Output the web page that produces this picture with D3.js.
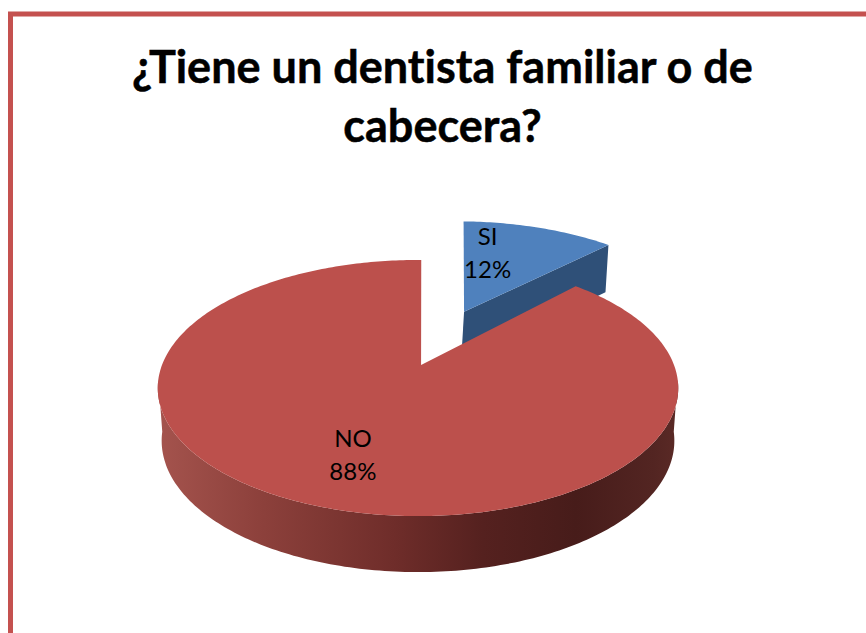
<!DOCTYPE html>
<html lang="es">
<head>
<meta charset="utf-8">
<script src="https://cdnjs.cloudflare.com/ajax/libs/d3/7.8.5/d3.min.js"></script>
<style>
  html, body { margin: 0; padding: 0; background: #fff; overflow: hidden; }
  svg { display: block; }
  text { font-family: Lato, "Open Sans", sans-serif; fill: #000; font-variant-ligatures: none; }
</style>
</head>
<body>
<svg id="chart" width="866" height="633"></svg>
<script>
// Chart content
const categories = ["SI", "NO"];
const shares = [12, 88];
const titleLines = ["¿Tiene un dentista familiar o de", "cabecera?"];

// Colours
const topColors = { SI: "#4f81bd", NO: "#bc504c" };
const sideBlue = "#2f5078";
const frameColor = "#c4514f";

// Tilted-disc camera: plan coordinates on a unit circle, projected with perspective
const pivot = { x: 418, y: 365 };
const spreadX = 256, spreadY = 123.9, depth = -0.18;
const project = (u, v) => {
  const w = 1 + depth * v;
  return [pivot.x + spreadX * u / w, pivot.y + spreadY * v / w];
};
const wallHeight = v => 52 + 4 * v;

// Per-slice placement on the disc plane
const explode = {
  SI: { u: 0.195, v: -0.465, turn: 0.03, tipU: 0.195 },
  NO: { u: 0, v: 0, turn: 0.015, tipU: 0.012 }
};
const labelAnchor = { SI: { u: 0.325, v: -1.08 }, NO: { u: -0.225, v: 0.64 } };

const svg = d3.select("#chart");
const line = d3.line();

const pie = d3.pie().sort(null).value(d => d.share);
const slices = pie(categories.map((name, i) => ({ name, share: shares[i] })));

// Sample a slice's rim between two pie angles, measured clockwise from the back of the disc
function rim(start, end, offset) {
  const n = Math.max(2, Math.ceil((end - start) * 60));
  return d3.range(n + 1).map(i => {
    const a = start + (end - start) * i / n + offset.turn;
    return { u: offset.u + Math.sin(a), v: offset.v - Math.cos(a) };
  });
}

const defs = svg.append("defs");
const wallGradient = defs.append("linearGradient")
  .attr("id", "wallShade")
  .attr("gradientUnits", "userSpaceOnUse")
  .attr("x1", 160).attr("x2", 680).attr("y1", 0).attr("y2", 0);
[[0, "#a4534d"], [0.2, "#8c403b"], [0.45, "#6f2d2a"], [0.62, "#55211f"], [0.8, "#471c1a"], [0.95, "#532522"], [1, "#5b2a26"]]
  .forEach(([o, c]) => wallGradient.append("stop").attr("offset", o).attr("stop-color", c));

// Outer frame, running off the right and bottom of the page
svg.append("rect")
  .attr("x", 10.5).attr("y", 14)
  .attr("width", 900).attr("height", 700)
  .attr("fill", "none")
  .attr("stroke", frameColor)
  .attr("stroke-width", 5);

// Title
svg.append("g").selectAll("text").data(titleLines).join("text")
  .attr("x", 442.5)
  .attr("y", (d, i) => 83 + i * 59)
  .attr("text-anchor", "middle")
  .attr("font-size", 45)
  .attr("font-weight", 700)
  .attr("stroke", "#000")
  .attr("stroke-width", 0.5)
  .text(d => d);

const siSlice = slices.find(s => s.data.name === "SI");
const noSlice = slices.find(s => s.data.name === "NO");

// Exploded slice: its cut face shows below the top surface
{
  const off = explode.SI;
  const arc = rim(siSlice.startAngle, siSlice.endAngle, off);
  const tip = { u: off.tipU, v: off.v };
  const end = arc[arc.length - 1];
  const face = [tip, end].map(p => project(p.u, p.v));
  const lower = [end, tip].map(p => {
    const [x, y] = project(p.u, p.v);
    return [x - 3, y + wallHeight(p.v)];
  });
  svg.append("path")
    .attr("d", line(face.concat(lower)) + "Z")
    .attr("fill", sideBlue);
  svg.append("path")
    .attr("d", line([tip].concat(arc).map(p => project(p.u, p.v))) + "Z")
    .attr("fill", topColors.SI);
}

// Curved wall of the large slice, only the part facing the viewer
{
  const off = explode.NO;
  const arc = rim(noSlice.startAngle, noSlice.endAngle, off);
  const front = arc.filter(p => p.v > 0.1);
  const upper = front.map(p => project(p.u, p.v));
  const lower = front.slice().reverse().map(p => {
    const [x, y] = project(p.u * 0.985, p.v);
    return [x, y + wallHeight(p.v)];
  });
  svg.append("path")
    .attr("d", line(upper.concat(lower)) + "Z")
    .attr("fill", "url(#wallShade)");

  // Top surface
  const outline = [{ u: off.tipU, v: 0 }].concat(arc);
  svg.append("path")
    .attr("d", line(outline.map(p => project(p.u, p.v))) + "Z")
    .attr("fill", topColors.NO);
}

// Data labels: category above percentage
slices.forEach(s => {
  const name = s.data.name;
  const [x, y] = project(labelAnchor[name].u, labelAnchor[name].v);
  const t = svg.append("text")
    .attr("text-anchor", "middle")
    .attr("font-size", 24);
  t.append("tspan").attr("x", x).attr("y", y - 8).text(name);
  t.append("tspan").attr("x", x).attr("y", y + 25).text(s.data.share + "%");
});
</script>
</body>
</html>
